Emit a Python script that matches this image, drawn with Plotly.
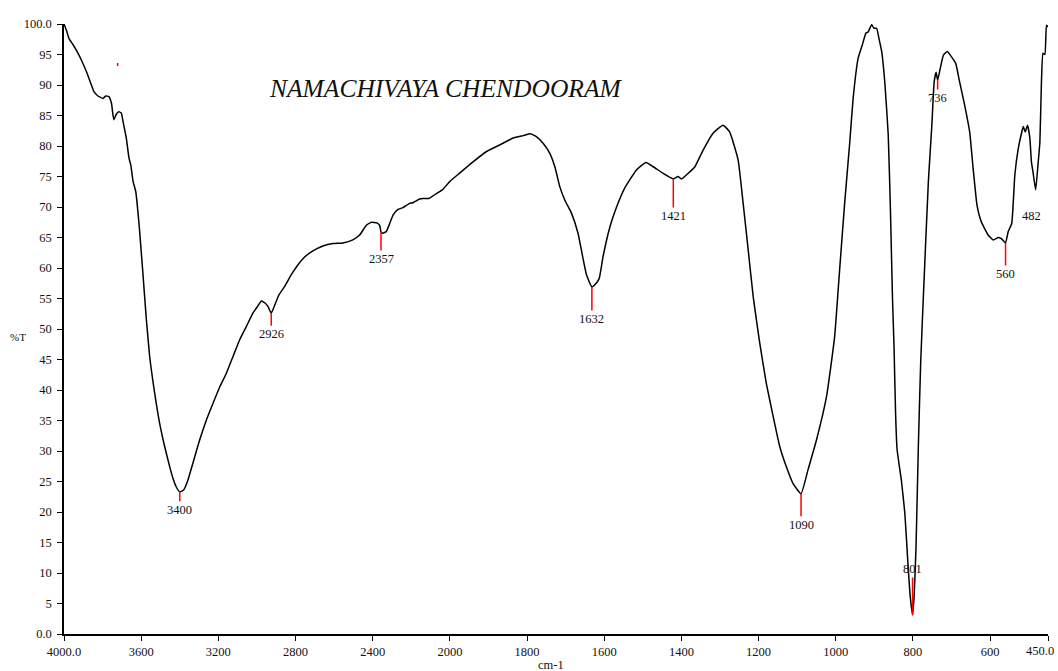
import numpy as np
import plotly.graph_objects as go

# FTIR spectrum of Namachivaya Chendooram: wavenumber (cm-1) vs transmittance (%T)
wavenumber = [
    4000, 3988, 3974, 3953, 3927, 3910, 3884, 3858, 3845, 3824, 3798, 3784, 3767, 3754,
    3742, 3729, 3715, 3703, 3694, 3685, 3677, 3663, 3654, 3642, 3628, 3610, 3591, 3573,
    3556, 3530, 3504, 3478, 3452, 3435, 3418, 3400, 3380, 3358, 3332, 3297, 3262, 3228,
    3193, 3159, 3124, 3090, 3055, 3021, 2995, 2977, 2960, 2943, 2926, 2908, 2886, 2856,
    2822, 2788, 2753, 2710, 2658, 2606, 2554, 2503, 2468, 2433, 2407, 2378, 2364, 2357,
    2347, 2329, 2312, 2294, 2269, 2243, 2209, 2192, 2157, 2140, 2109, 2070, 2036, 2000,
    1974, 1940, 1905, 1870, 1836, 1810, 1791, 1775, 1758, 1741, 1728, 1715, 1702, 1685,
    1668, 1656, 1646, 1632, 1622, 1613, 1603, 1585, 1568, 1547, 1516, 1492, 1473, 1447,
    1421, 1409, 1400, 1383, 1365, 1344, 1318, 1292, 1275, 1253, 1240, 1227, 1214, 1197,
    1180, 1162, 1145, 1128, 1111, 1090, 1072, 1050, 1024, 1003, 990, 977, 964, 955,
    942, 931, 922, 916, 907, 901, 894, 888, 881, 873, 864, 858, 853, 849,
    845, 841, 830, 821, 813, 807, 801, 797, 792, 786, 780, 773, 760, 751,
    745, 740, 736, 730, 721, 711, 700, 689, 679, 666, 653, 644, 634, 623,
    605, 592, 579, 571, 560, 553, 544, 536, 527, 518, 514, 509, 503, 497,
    493, 489, 482, 476, 471, 467, 463, 458, 454, 450,
]
transmittance = [
    100.0, 99.0, 97.6, 96.6, 95.2, 94.1, 92.2, 90.0, 88.9, 88.2, 87.8, 88.2, 88.1, 87.0,
    84.3, 85.2, 85.6, 85.4, 84.0, 82.6, 81.3, 78.0, 76.9, 74.2, 72.5, 66.8, 59.1, 51.5,
    45.5, 39.5, 34.5, 30.7, 27.4, 25.5, 24.1, 23.3, 23.6, 25.2, 28.0, 31.8, 35.1, 37.8,
    40.5, 42.7, 45.5, 48.2, 50.4, 52.6, 53.8, 54.6, 54.3, 53.7, 52.6, 53.9, 55.6, 57.0,
    58.9, 60.5, 61.8, 62.8, 63.6, 64.0, 64.1, 64.6, 65.4, 67.0, 67.5, 67.4, 67.0, 65.9,
    65.7, 66.0, 67.3, 68.7, 69.6, 69.9, 70.6, 70.7, 71.3, 71.4, 71.4, 72.2, 72.9, 74.2,
    75.6, 77.4, 79.1, 80.2, 81.3, 81.7, 82.0, 81.5, 80.4, 78.8, 76.6, 73.3, 71.1, 69.0,
    65.7, 61.9, 58.9, 56.9, 57.4, 58.3, 61.9, 66.8, 70.0, 73.1, 76.1, 77.3, 76.6, 75.5,
    74.6, 75.0, 74.6, 75.5, 76.6, 79.3, 82.1, 83.4, 82.3, 77.7, 70.6, 63.0, 55.3, 47.7,
    41.1, 35.6, 30.7, 27.4, 24.7, 23.0, 26.9, 31.8, 38.9, 48.7, 59.7, 70.6, 80.4, 87.8,
    94.4, 96.6, 98.5, 98.7, 99.9, 99.3, 99.3, 97.6, 95.5, 90.5, 81.8, 68.7, 55.0, 47.1,
    36.2, 30.2, 25.2, 19.8, 11.6, 6.1, 3.1, 6.1, 14.3, 30.7, 44.4, 55.3, 74.2, 83.4,
    90.5, 92.1, 90.8, 92.5, 94.9, 95.5, 94.6, 93.5, 90.5, 86.7, 82.3, 76.3, 70.3, 67.6,
    65.4, 64.6, 65.0, 64.8, 64.1, 66.0, 67.3, 75.2, 79.6, 82.3, 83.2, 82.3, 83.4, 81.3,
    77.4, 75.8, 72.8, 76.9, 80.7, 90.5, 95.2, 95.0, 99.8, 99.5,
]

# Picked peaks (cm-1)
peak_wavenumbers = [3400, 2926, 2357, 1632, 1421, 1090, 801, 736, 560]
unmarked_peak = 482

# Small stray marker near the start of the trace
stray_mark_wavenumber = 3722
stray_mark_transmittance = [93.6, 93.1]

x_tick_values = [4000, 3600, 3200, 2800, 2400, 2000, 1800, 1600, 1400, 1200, 1000, 800, 600, 450]
x_tick_labels = ["4000.0", "3600", "3200", "2800", "2400", "2000", "1800", "1600",
                 "1400", "1200", "1000", "800", "600", "450.0"]
y_tick_values = list(range(0, 101, 5))
y_tick_labels = ["0.0"] + [str(v) for v in y_tick_values[1:-1]] + ["100.0"]

# Label offsets (px) from the peak point to the centre of its label
label_offsets = {3400: 18, 2926: 21, 2357: 27, 1632: 32, 1421: 37,
                 1090: 31, 801: -46, 736: 18, 560: 31}

FONT = "Liberation Serif, Times New Roman, serif"
TEXT_COLOR = "#111111"


def axis_pos(w):
    """Split abscissa: the 4000-2000 cm-1 region is drawn at half scale."""
    w = np.asarray(w, dtype=float)
    return np.where(w > 2000, 2000 + (w - 2000) / 2.0, w)


wn = np.array(wavenumber, dtype=float)
tr = np.array(transmittance, dtype=float)

fig = go.Figure()
fig.add_trace(go.Scatter(
    x=axis_pos(wn), y=tr, mode="lines",
    line=dict(color="black", width=1.5, shape="spline", smoothing=0.4),
    hoverinfo="skip",
))
fig.add_trace(go.Scatter(
    x=axis_pos([stray_mark_wavenumber] * 2), y=stray_mark_transmittance, mode="lines",
    line=dict(color="red", width=1.5), hoverinfo="skip",
))

# Peak markers: red tick from the curve to the wavenumber label
order = np.argsort(wn)
for p in peak_wavenumbers:
    t = float(np.interp(p, wn[order], tr[order]))
    fig.add_annotation(
        x=float(axis_pos(p)), y=t, xref="x", yref="y",
        text=str(p), showarrow=True, arrowhead=0, arrowwidth=1.5,
        arrowcolor="red", ax=0, ay=label_offsets[p],
        font=dict(family=FONT, size=12.5, color=TEXT_COLOR),
    )

t482 = float(np.interp(unmarked_peak, wn[order], tr[order]))
fig.add_annotation(
    x=float(axis_pos(unmarked_peak)), y=t482, xref="x", yref="y",
    text=str(unmarked_peak), showarrow=False, xshift=-4, yshift=-26,
    xanchor="center", yanchor="middle",
    font=dict(family=FONT, size=12.5, color=TEXT_COLOR),
)

# The last tick label sits at the figure's right edge; draw it nudged inward
tick_text_drawn = x_tick_labels[:-1] + [""]
fig.add_annotation(
    x=float(axis_pos(x_tick_values[-1])), y=-0.028, xref="x", yref="paper",
    text=x_tick_labels[-1], showarrow=False, xanchor="right", yanchor="middle",
    xshift=8,
    font=dict(family=FONT, size=12.5, color=TEXT_COLOR),
)

fig.add_annotation(
    x=0.388, y=0.895, xref="paper", yref="paper",
    xanchor="center", yanchor="middle",
    text="<i>NAMACHIVAYA CHENDOORAM</i>", showarrow=False,
    font=dict(family=FONT, size=25.5, color=TEXT_COLOR),
)
fig.add_annotation(
    x=-0.047, y=0.487, xref="paper", yref="paper",
    xanchor="center", yanchor="middle",
    text="%T", showarrow=False,
    font=dict(family=FONT, size=11, color=TEXT_COLOR),
)
fig.add_annotation(
    x=0.495, y=-0.05, xref="paper", yref="paper",
    xanchor="center", yanchor="middle",
    text="cm-1", showarrow=False,
    font=dict(family=FONT, size=12.5, color=TEXT_COLOR),
)

axis_common = dict(
    showgrid=False, zeroline=False, showline=True, linecolor="black", linewidth=1.5,
    ticks="outside", ticklen=5, tickwidth=1, tickcolor="black",
    ticklabeloverflow="allow", automargin=False,
    tickfont=dict(family=FONT, size=12.5, color=TEXT_COLOR),
)

fig.update_layout(
    width=1058, height=671,
    margin=dict(l=64, r=10, t=24, b=37),
    paper_bgcolor="white", plot_bgcolor="white",
    showlegend=False,
    xaxis=dict(
        range=[float(axis_pos(4000)), float(axis_pos(450))],
        tickvals=axis_pos(x_tick_values).tolist(), ticktext=tick_text_drawn,
        **axis_common,
    ),
    yaxis=dict(
        range=[0, 100], tickvals=y_tick_values, ticktext=y_tick_labels,
        ticklabelstandoff=3,
        **axis_common,
    ),
)

fig.write_html("out.html")
